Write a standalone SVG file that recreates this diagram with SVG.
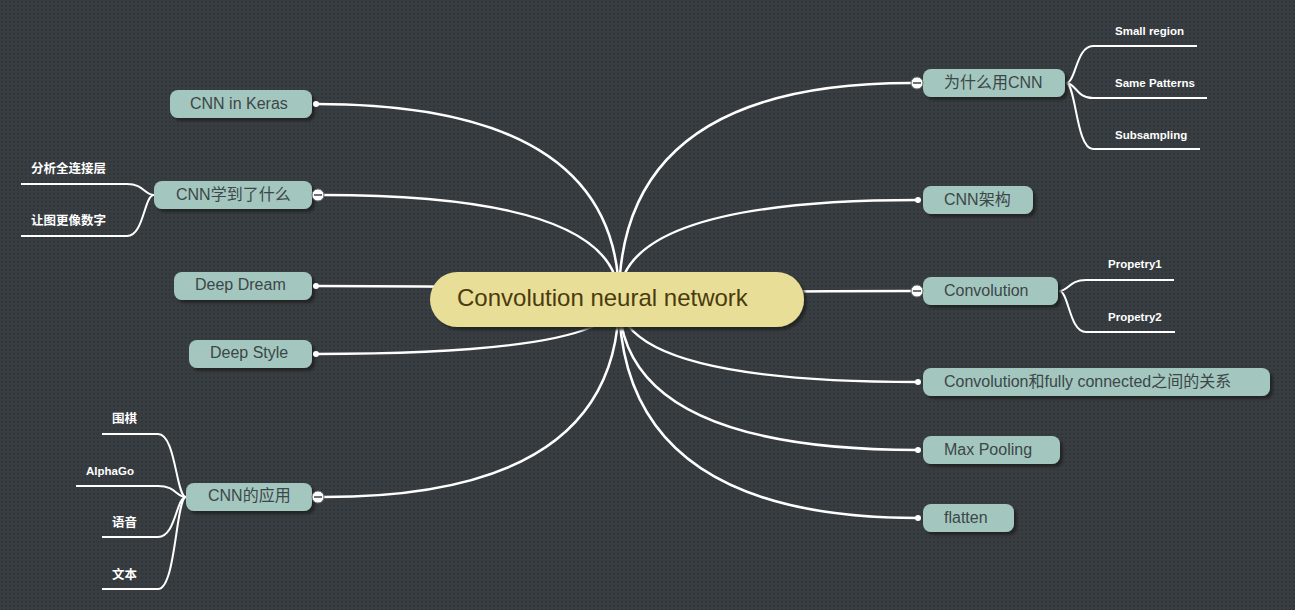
<svg xmlns="http://www.w3.org/2000/svg" width="1295" height="610" viewBox="0 0 1295 610">
<defs>
<pattern id="dots" width="4" height="4" patternUnits="userSpaceOnUse">
<rect width="4" height="4" fill="#383d41"/>
<rect x="1" y="1" width="1.5" height="1.5" fill="#2c3134"/>
</pattern>
<filter id="sh" x="-10%" y="-30%" width="130%" height="180%">
<feDropShadow dx="3" dy="3" stdDeviation="1.2" flood-color="#1c2023" flood-opacity="0.85"/>
</filter>
<style>
.conn{fill:none;stroke:#ffffff;stroke-width:2.5;stroke-linecap:round}
.leafc{fill:none;stroke:#ffffff;stroke-width:2}
.node{fill:#a3c6bf;filter:url(#sh)}
.nt{font-family:"Liberation Sans","Noto Sans CJK SC",sans-serif;font-size:16px;fill:#3c4747}
.lt{font-family:"Liberation Sans","Noto Sans CJK SC",sans-serif;font-size:11.5px;font-weight:bold;fill:#ffffff}
.lc{font-family:"Noto Sans CJK SC",sans-serif;font-size:12.5px;font-weight:bold;fill:#ffffff}
.ct{font-family:"Liberation Sans","Noto Sans CJK SC",sans-serif;font-size:24px;fill:#4a3b0e}
.dot{fill:#ffffff}
.col{fill:#ffffff;stroke:#6b6f70;stroke-width:1}
.minus{stroke:#4a4f50;stroke-width:1.6}
</style>
</defs>
<rect width="1295" height="610" fill="url(#dots)"/>

<g id="connectors">
<path class="conn" d="M619,299 Q619,83 911,83"/>
<path class="conn" d="M619,299 Q619,200 918,200"/>
<path class="conn" d="M619,299 Q619,291 911,291"/>
<path class="conn" d="M619,299 Q619,382 918,382"/>
<path class="conn" d="M619,299 Q619,450 918,450"/>
<path class="conn" d="M619,299 Q619,518 918,518"/>
<path class="conn" d="M619,299 Q619,104 316,104"/>
<path class="conn" d="M619,299 Q619,195 323,195"/>
<path class="conn" d="M619,299 Q619,286 316,286"/>
<path class="conn" d="M619,299 Q619,354 316,354"/>
<path class="conn" d="M619,299 Q619,497 324,497"/>
<path class="leafc" d="M1066,83 C1076,83 1076,46 1093,46 L1197,46"/>
<path class="leafc" d="M1066,83 C1076,83 1076,98 1093,98 L1207,98"/>
<path class="leafc" d="M1066,83 C1076,83 1076,149 1093,149 L1200,149"/>
<path class="leafc" d="M1059,291 C1069,291 1069,280 1086,280 L1174,280"/>
<path class="leafc" d="M1059,291 C1069,291 1069,332 1086,332 L1175,332"/>
<path class="leafc" d="M154,195 C144,195 144,184 127,184 L21,184"/>
<path class="leafc" d="M154,195 C144,195 144,236 127,236 L21,236"/>
<path class="leafc" d="M186,497 C176,497 176,434 158,434 L102,434"/>
<path class="leafc" d="M186,497 C176,497 176,486 158,486 L76,486"/>
<path class="leafc" d="M186,497 C176,497 176,537 158,537 L102,537"/>
<path class="leafc" d="M186,497 C176,497 176,589 158,589 L102,589"/>
</g>

<g id="center">
<rect x="430" y="272" width="374" height="55" rx="27.5" fill="#e8de97" filter="url(#sh)"/>
<text class="ct" x="457" y="306">Convolution neural network</text>
</g>

<g id="n-why">
<rect class="node" x="923" y="69" width="142" height="28" rx="8"/>
<text class="nt" x="944" y="87.5">为什么用CNN</text>
<circle class="col" cx="917" cy="83" r="6"/>
<line class="minus" x1="913" y1="83" x2="921" y2="83"/>
</g>
<g id="n-arch">
<rect class="node" x="923" y="186" width="110" height="28" rx="8"/>
<text class="nt" x="944" y="204.5">CNN架构</text>
<circle class="dot" cx="918" cy="200" r="3"/>
</g>
<g id="n-conv">
<rect class="node" x="923" y="277" width="135" height="28" rx="8"/>
<text class="nt" x="944" y="295.5">Convolution</text>
<circle class="col" cx="917" cy="291" r="6"/>
<line class="minus" x1="913" y1="291" x2="921" y2="291"/>
</g>
<g id="n-rel">
<rect class="node" x="923" y="368" width="347" height="28" rx="8"/>
<text class="nt" x="944" y="386.5">Convolution和fully connected之间的关系</text>
<circle class="dot" cx="918" cy="382" r="3"/>
</g>
<g id="n-pool">
<rect class="node" x="923" y="436" width="137" height="28" rx="8"/>
<text class="nt" x="944" y="454.5">Max Pooling</text>
<circle class="dot" cx="918" cy="450" r="3"/>
</g>
<g id="n-flat">
<rect class="node" x="923" y="504" width="91" height="28" rx="8"/>
<text class="nt" x="944" y="522.5">flatten</text>
<circle class="dot" cx="918" cy="518" r="3"/>
</g>

<g id="n-keras">
<rect class="node" x="170" y="90" width="142" height="28" rx="8"/>
<text class="nt" x="190" y="108.5">CNN in Keras</text>
<circle class="dot" cx="316" cy="104" r="3"/>
</g>
<g id="n-learn">
<rect class="node" x="154" y="181" width="158" height="28" rx="8"/>
<text class="nt" x="176" y="199.5">CNN学到了什么</text>
<circle class="col" cx="318" cy="195" r="6"/>
<line class="minus" x1="314" y1="195" x2="322" y2="195"/>
</g>
<g id="n-dream">
<rect class="node" x="174" y="272" width="138" height="28" rx="8"/>
<text class="nt" x="195" y="290">Deep Dream</text>
<circle class="dot" cx="316" cy="286" r="3"/>
</g>
<g id="n-style">
<rect class="node" x="189" y="340" width="123" height="28" rx="8"/>
<text class="nt" x="210" y="358">Deep Style</text>
<circle class="dot" cx="316" cy="354" r="3"/>
</g>
<g id="n-app">
<rect class="node" x="186" y="483" width="126" height="28" rx="8"/>
<text class="nt" x="208" y="501">CNN的应用</text>
<circle class="col" cx="318" cy="497" r="6"/>
<line class="minus" x1="314" y1="497" x2="322" y2="497"/>
</g>

<g id="leaves">
<text class="lt" x="1115" y="35">Small region</text>
<text class="lt" x="1115" y="87">Same Patterns</text>
<text class="lt" x="1115" y="139">Subsampling</text>
<text class="lt" x="1108" y="268">Propetry1</text>
<text class="lt" x="1108" y="321">Propetry2</text>
<text class="lc" x="31" y="173">分析全连接层</text>
<text class="lc" x="31" y="225">让图更像数字</text>
<text class="lc" x="112" y="423">围棋</text>
<text class="lt" x="86" y="475">AlphaGo</text>
<text class="lc" x="112" y="527">语音</text>
<text class="lc" x="112" y="579">文本</text>
</g>
</svg>
